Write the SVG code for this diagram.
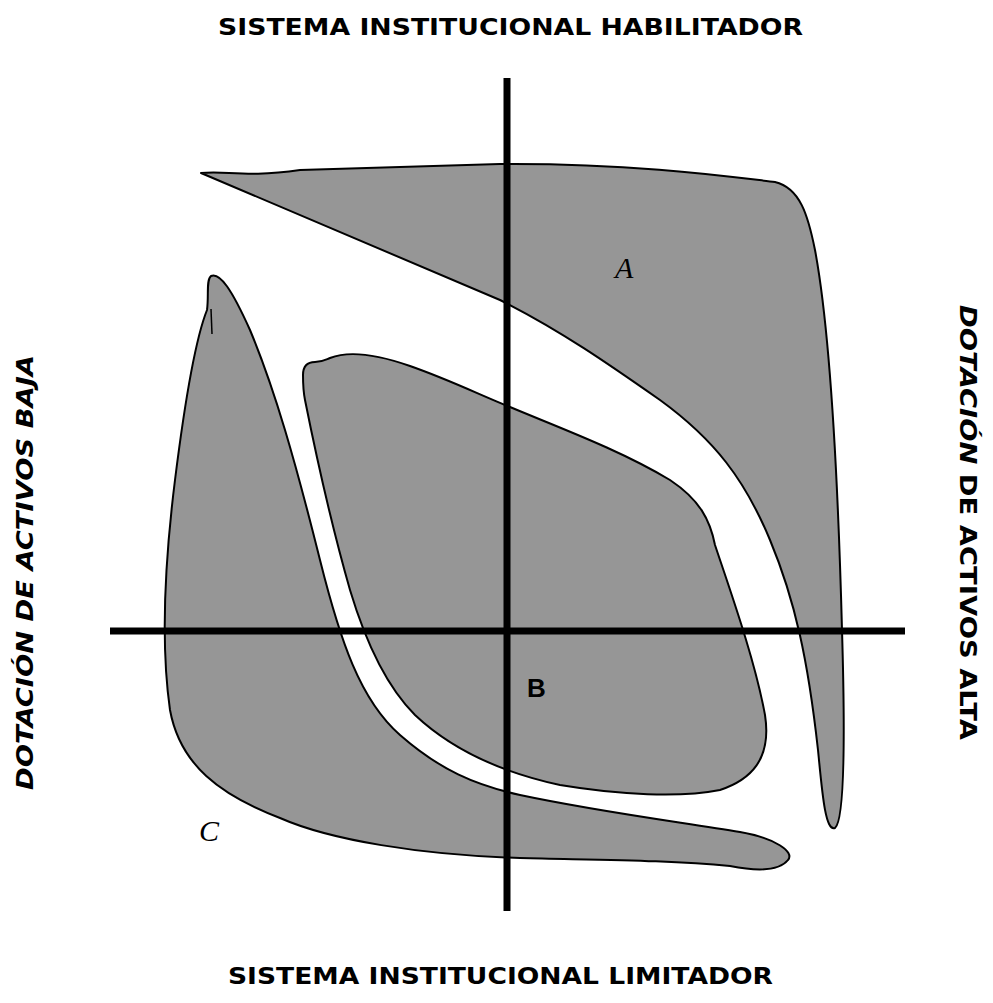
<svg xmlns="http://www.w3.org/2000/svg" width="993" height="1003" viewBox="0 0 993 1003">
<style>
.region{fill:#969696;stroke:#000;stroke-width:2;stroke-linejoin:round}
.axis{stroke:#000;stroke-width:7;fill:none}
.title{font-family:"Comic Sans MS","DejaVu Sans","Liberation Sans",sans-serif;font-weight:bold;font-size:23px;fill:#000}
.side{font-family:"Comic Sans MS","DejaVu Sans","Liberation Sans",sans-serif;font-weight:bold;font-size:23px;fill:#000}
.lbl{font-family:"Liberation Serif",serif;font-style:italic;font-size:30px;fill:#000}
.lblb{font-family:"Liberation Sans",Arial,sans-serif;font-weight:bold;font-size:26px;fill:#000}
</style>
<rect width="993" height="1003" fill="#fff"/>
<g id="regionA">
<path class="region" d="M201,173 C225,170 245,178 300,170 L500,164 C640,163 740,178 775,182 C800,188 808,215 815,250 C830,330 838,480 842,630 C845,730 845,820 835,828 C825,832 822,790 818,750 C808,660 795,600 770,540 C745,480 715,440 660,400 C610,365 560,330 500,300 Z"/>
</g>
<g id="regionB">
<path class="region" d="M303,375 C303,365 308,362 315,362 C322,362 325,360 330,358 C345,352 370,352 410,366 C450,380 480,395 510,407 C560,428 620,450 670,480 C700,500 710,520 715,545 C730,590 755,660 765,715 C772,760 750,780 720,790 C680,798 620,795 560,785 C500,772 450,748 415,715 C385,685 365,640 350,590 C330,520 315,450 305,400 C303,390 303,380 303,375 Z"/>
</g>
<g id="regionC">
<path class="region" d="M211,276 C220,272 232,290 250,330 C275,390 295,460 320,560 C340,640 360,700 400,735 C440,770 475,785 520,795 C600,812 680,822 740,832 C775,838 795,852 788,860 C780,870 760,872 730,866 C670,860 600,860 520,858 C420,855 330,840 280,818 C220,795 180,765 170,710 C160,640 165,560 175,480 C185,400 195,340 207,310 C209,295 206,280 211,276 Z"/>
<path d="M211,309 L212,334" stroke="#000" stroke-width="1.5" fill="none"/>
</g>
<g id="axes">
<line class="axis" x1="507" y1="78" x2="507" y2="911"/>
<line class="axis" x1="110" y1="631" x2="905" y2="631"/>
</g>
<g id="labels">
<text class="lbl" x="615" y="278">A</text>
<text class="lblb" x="527" y="697">B</text>
<text class="lbl" x="199" y="841">C</text>
</g>
<g id="titleTop"><text class="title" x="218" y="35" textLength="585" lengthAdjust="spacingAndGlyphs">SISTEMA INSTITUCIONAL HABILITADOR</text></g>
<g id="titleBottom"><text class="title" x="228" y="984" textLength="545" lengthAdjust="spacingAndGlyphs">SISTEMA INSTITUCIONAL LIMITADOR</text></g>
<g id="labelLeft"><text class="side" transform="translate(33,790) rotate(-90)" x="0" y="0" font-style="italic" textLength="435" lengthAdjust="spacingAndGlyphs">DOTACIÓN DE ACTIVOS BAJA</text></g>
<g id="labelRight"><text class="side" transform="translate(960,305) rotate(90)" x="0" y="0" textLength="435" lengthAdjust="spacingAndGlyphs"><tspan font-style="italic">DOTACIÓN</tspan> DE ACTIVOS ALTA</text></g>
</svg>
